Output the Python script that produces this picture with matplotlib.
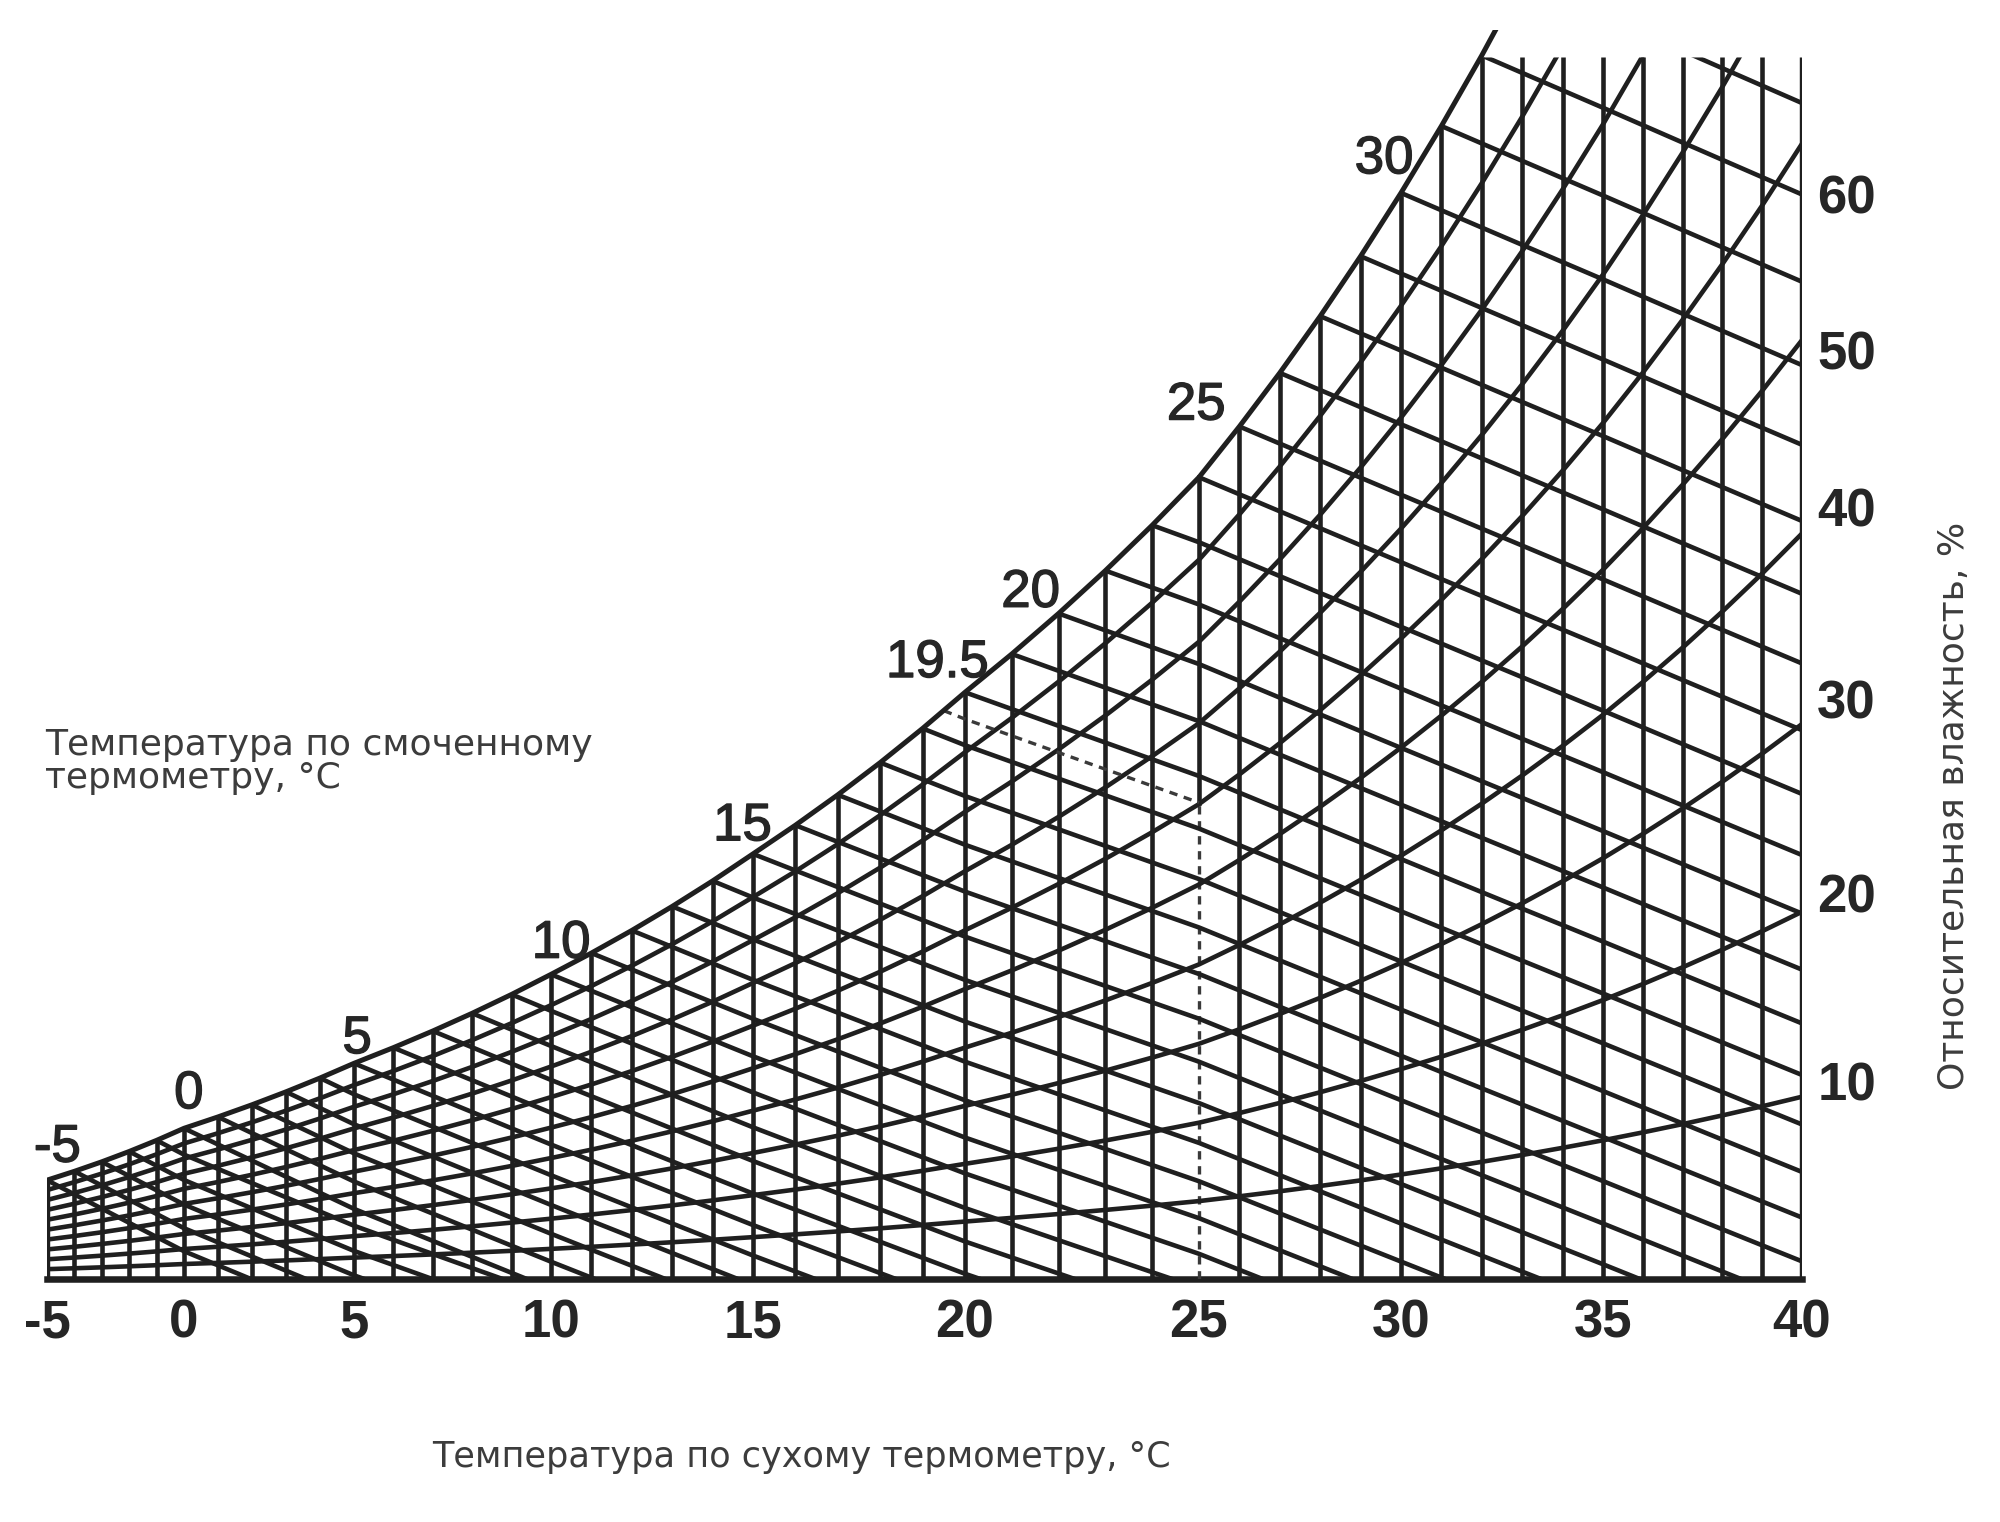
import numpy as np
import matplotlib
matplotlib.use('Agg')
import matplotlib.pyplot as plt
from matplotlib.patches import Polygon
import matplotlib.patheffects as pe

# --- data ---------------------------------------------------------------
# dry-bulb grid, degC, and saturation vapour pressure (kPa) at each degree
dry_bulb = [-5, -4, -3, -2, -1, 0, 1, 2, 3, 4, 5, 6, 7, 8, 9, 10, 11, 12, 13, 14,
            15, 16, 17, 18, 19, 20, 21, 22, 23, 24, 25, 26, 27, 28, 29, 30, 31,
            32, 33, 34, 35, 36, 37, 38, 39, 40]
p_sat = [0.4017, 0.4375, 0.4760, 0.5177, 0.5626, 0.6112, 0.6571, 0.7060, 0.7581,
         0.8135, 0.8725, 0.9353, 1.0020, 1.0729, 1.1481, 1.2280, 1.3128, 1.4026,
         1.4979, 1.5987, 1.7055, 1.8185, 1.9380, 2.0643, 2.1979, 2.3389, 2.4878,
         2.6448, 2.8105, 2.9852, 3.1693, 3.3633, 3.5674, 3.7823, 4.0084, 4.2462,
         4.4961, 4.7586, 5.0345, 5.3242, 5.6280, 5.9468, 6.2812, 6.6315, 6.9988,
         7.3838]
rh_curves = [10, 20, 30, 40, 50, 60, 70, 80, 90]
wet_bulb = [-5, -4, -3, -2, -1, 0, 1, 2, 3, 4, 5, 6, 7, 8, 9, 10, 11, 12, 13, 14,
            15, 16, 17, 18, 19, 20, 21, 22, 23, 24, 25, 26, 27, 28, 29, 30, 31,
            32, 33]
# worked example: wet bulb 19.5, dry bulb 25
ex_wet = 19.5
ex_p_sat = 2.2673
ex_dry = 25
w_top = 30.6          # g/kg, top of the grid
pressure = 101.325    # kPa

# the printed temperature scale is not uniform: where each 5 degC mark sits
scale_t = [-5, 0, 5, 10, 15, 20, 25, 30, 35, 40]
scale_pos = [47, 184, 354, 551, 753, 965, 1199, 1401, 1603, 1802]

xtick_labels = ['-5', '0', '5', '10', '15', '20', '25', '30', '35', '40']
xtick_vals = [-5, 0, 5, 10, 15, 20, 25, 30, 35, 40]
rh_labels = ['10', '20', '30', '40', '50', '60']
rh_label_at = [4.95, 9.68, 14.54, 19.33, 23.26, 27.18]
wb_labels = ['-5', '0', '5', '10', '15', '19.5', '20', '25', '30']
wb_label_t = [-4.62, 0.14, 5.08, 10.25, 14.74, 19.35, 21.40, 24.94, 29.58]
wb_label_w = [3.29, 4.63, 6.01, 8.40, 11.34, 15.43, 17.19, 21.88, 28.05]


def hum_ratio(p):
    p = np.asarray(p, dtype=float)
    return 622.0 * p / (pressure - p)   # g/kg


def wet_bulb_line(twb, ps, t):
    ws = hum_ratio(ps) / 1000.0
    if twb >= 0:
        w = ((2501 - 2.326 * twb) * ws - 1.006 * (t - twb)) / (2501 + 1.86 * t - 4.186 * twb)
    else:
        w = ((2830 - 0.24 * twb) * ws - 1.006 * (t - twb)) / (2830 + 1.86 * t - 2.1 * twb)
    return w * 1000.0


def _extrap(x, xp, fp):
    x = np.asarray(x, dtype=float)
    y = np.interp(x, xp, fp)
    lo = x < xp[0]
    hi = x > xp[-1]
    y = np.where(lo, fp[0] + (x - xp[0]) * (fp[1] - fp[0]) / (xp[1] - xp[0]), y)
    y = np.where(hi, fp[-1] + (x - xp[-1]) * (fp[-1] - fp[-2]) / (xp[-1] - xp[-2]), y)
    return y


def t_fwd(t):
    return _extrap(t, scale_t, scale_pos)


def t_inv(p):
    return _extrap(p, scale_pos, scale_t)


T = np.array(dry_bulb, dtype=float)
PS = np.array(p_sat)
W_sat = hum_ratio(PS)

LC = '#1f1f1f'
LW = 3.3
TXT = '#262626'
FONT = ['Liberation Sans', 'DejaVu Sans']
TFONT = ['DejaVu Sans']

fig = plt.figure(figsize=(20, 15.22), dpi=100)
y_max = 31.3
px_per_g = 39.92
ax_h = y_max * px_per_g
ax = fig.add_axes([47 / 2000, 243 / 1522, (1802 - 47) / 2000, ax_h / 1522])
ax.set_xscale('function', functions=(t_fwd, t_inv))
ax.set_xlim(-5, 40)
ax.set_ylim(0, y_max)

# clip region: below the saturation curve and the top of the grid
t_top = np.interp(w_top, W_sat, T)
inside = W_sat < w_top
clip_xy = [(-5, 0)] + list(zip(T[inside], W_sat[inside])) + [(t_top, w_top), (40, w_top), (40, 0)]
clip = Polygon(clip_xy, closed=True, transform=ax.transData, fill=False, lw=0)
ax.add_patch(clip)

# saturation curve
ax.plot(T, W_sat, color=LC, lw=LW + 0.3, zorder=4)

# vertical dry-bulb lines
w_ex = float(wet_bulb_line(ex_wet, ex_p_sat, ex_dry))
for t, ws in zip(T, W_sat):
    top = min(ws, w_top)
    if t == ex_dry:
        ax.plot([t, t], [w_ex, top], color=LC, lw=LW, zorder=3)
        ax.plot([t, t], [0, w_ex], color='#3a3a3a', lw=2.4, dashes=(2.5, 2), zorder=3)
        continue
    lw = LW + 0.6 if t in (-5, 40) else LW
    ax.plot([t, t], [0, top], color=LC, lw=lw, solid_capstyle='butt', zorder=3)

# relative humidity curves
for rh in rh_curves:
    w = hum_ratio(PS * rh / 100.0)
    ln, = ax.plot(T, w, color=LC, lw=LW, zorder=3)
    ln.set_clip_path(clip)

# wet-bulb lines
for twb in wet_bulb:
    tt = T[T >= twb]
    w = wet_bulb_line(twb, PS[dry_bulb.index(twb)], tt)
    ln, = ax.plot(tt, w, color=LC, lw=LW, zorder=3)
    ln.set_clip_path(clip)

# worked example along wet bulb 19.5
tt = np.concatenate([[ex_wet], T[(T > ex_wet) & (T <= ex_dry)]])
ax.plot(tt, wet_bulb_line(ex_wet, ex_p_sat, tt), color='#3a3a3a', lw=2.4,
        dashes=(2.5, 2), zorder=3)

# wet-bulb labels along the saturation curve
for s, t, w in zip(wb_labels, wb_label_t, wb_label_w):
    ax.text(t, w, s, ha='center', va='center', fontsize=38, color=TXT,
            family=FONT, zorder=5,
            path_effects=[pe.withStroke(linewidth=1.0, foreground=TXT)])

# axes frame and ticks
for side in ['top', 'left', 'right']:
    ax.spines[side].set_visible(False)
ax.spines['bottom'].set_linewidth(LW + 1.4)
ax.spines['bottom'].set_color(LC)
ax.set_xticks(xtick_vals, xtick_labels)
ax.xaxis.set_minor_locator(matplotlib.ticker.NullLocator())
ax.yaxis.tick_right()
ax.set_yticks(rh_label_at, rh_labels)
ax.tick_params(axis='both', length=0, labelsize=38, labelcolor=TXT)
ax.tick_params(axis='x', pad=14)
ax.tick_params(axis='y', pad=11)
for lab in ax.get_xticklabels() + ax.get_yticklabels():
    lab.set_fontweight('bold')
    lab.set_family(FONT)

# axis titles
fig.text(45 / 2000, 1 - 728 / 1522, 'Температура по смоченному\nтермометру, °C',
         ha='left', va='top', fontsize=26, color='#3c3c3c', family=TFONT, linespacing=0.95)
fig.text(801 / 2000, (1522 - 1467) / 1522, 'Температура по сухому термометру, °C',
         ha='center', va='baseline', fontsize=25.3, color='#3c3c3c', family=TFONT)
fig.text(1954 / 2000, 1 - 806 / 1522, 'Относительная влажность, %', rotation=90,
         ha='center', va='center', fontsize=26, color='#3c3c3c', family=TFONT)

fig.savefig('out.png', dpi=100, facecolor='white')
